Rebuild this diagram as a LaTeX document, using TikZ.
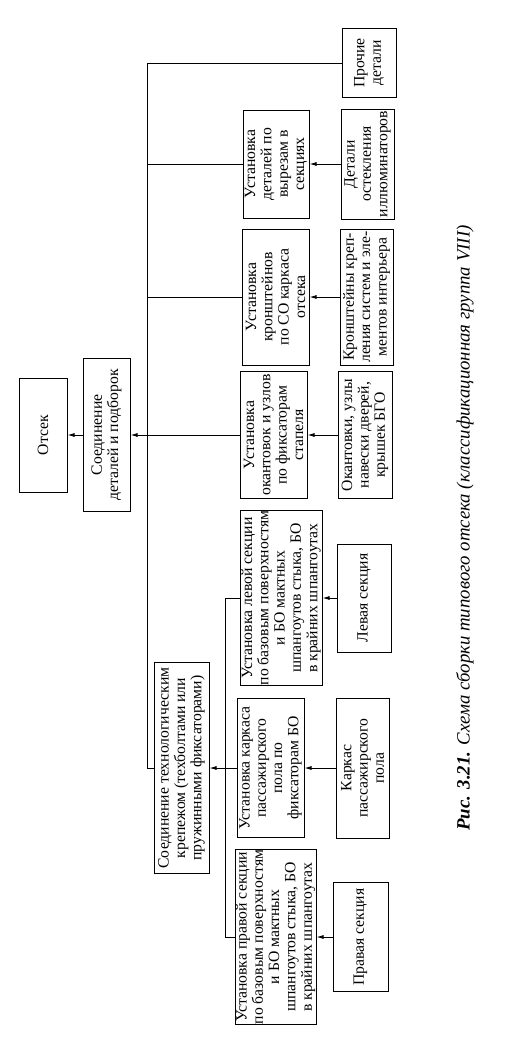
\documentclass[tikz,border=0pt]{standalone}
\usepackage{fontspec}
\setmainfont{Liberation Serif}
\usetikzlibrary{arrows.meta,positioning,calc}

\begin{document}
\begin{tikzpicture}[
			x=1pt, y=-1pt,
			block/.style={draw, line width=1pt, rotate=90, align=center, inner sep=0.5pt, font=\fontsize{15.7}{16.3}\selectfont},
			line/.style={line width=0.9pt},
			arr/.style={line width=0.9pt, -{Latex[length=7pt,width=4pt]}}
			]
			\useasboundingbox (0,0) rectangle (528,1045);
			% main chain
			\node[block, minimum width=114pt, minimum height=48pt] (otsek) at (43,435) {Отсек};
			\node[block, minimum width=153pt, minimum height=47pt] (sobor) at (106.5,435) {Соединение\\деталей и подборок};
			\node[block, minimum width=211pt, minimum height=55pt] (krep) at (181.5,768) {Соединение технологическим\\крепежом (техболтами или\\пружинными фиксаторами)};
			% assembly steps
			\node[block, minimum width=108pt, minimum height=66pt] (ustVyr) at (276,164) {Установка\\деталей по\\вырезам в\\секциях};
			\node[block, minimum width=136pt, minimum height=67pt] (ustKron) at (275.5,297) {Установка\\кронштейнов\\по СО каркаса\\отсека};
			\node[block, minimum width=127pt, minimum height=67pt] (ustOkant) at (273.5,435) {Установка\\окантовок и узлов\\по фиксаторам\\стапеля};
			\node[block, minimum width=175pt, minimum height=82pt] (ustLev) at (281,598) {Установка левой секции\\по базовым поверхностям\\и БО мактных\\шпангоутов стыка, БО\\в крайних шпангоутах};
			\node[block, minimum width=139pt, minimum height=67pt] (ustKark) at (270.5,768) {Установка каркаса\\пассажирского\\пола по\\фиксаторам БО};
			\node[block, minimum width=174pt, minimum height=81pt] (ustPrav) at (275.5,937) {Установка правой секции\\по базовым поверхностям\\и БО мактных\\шпангоутов стыка, БО\\в крайних шпангоутах};
			% parts
			\node[block, minimum width=69pt, minimum height=54pt] (prochie) at (369,63) {Прочие\\детали};
			\node[block, minimum width=110pt, minimum height=53pt] (detOst) at (367.5,164) {Детали\\остекления\\иллюминаторов};
			\node[block, minimum width=136pt, minimum height=53pt] (kron) at (366.5,297) {Кронштейны креп-\\ления систем и эле-\\ментов интерьера};
			\node[block, minimum width=127pt, minimum height=54pt] (okant) at (365,435) {Окантовки, узлы\\навески дверей,\\крышек БГО};
			\node[block, minimum width=108pt, minimum height=54pt] (levSek) at (364,598) {Левая секция};
			\node[block, minimum width=140pt, minimum height=53pt] (kark) at (362.5,768) {Каркас\\пассажирского\\пола};
			\node[block, minimum width=109pt, minimum height=55pt] (pravSek) at (360.5,937) {Правая секция};
			\node[rotate=90, font=\fontsize{18.8}{18.8}\selectfont\itshape] (caption) at (465,528) {\textbf{Рис. 3.21.} Схема сборки типового отсека (классификационная группа VIII)};

			\coordinate (trunk) at (147,768);
			\coordinate (sub) at (225,768);

			\draw[line] (prochie.north) -| (trunk) -- (krep.north);
			\draw[line] (ustVyr.north) -- (ustVyr.north -| trunk);
			\draw[line] (ustKron.north) -- (ustKron.north -| trunk);
			\draw[arr] (ustOkant.north) -- (sobor.south);
			\draw[arr] (sobor.north) -- (otsek.south);
			\draw[line] (ustLev.north) -| (ustPrav.north -| sub) -- (ustPrav.north);
			\draw[arr] (ustKark.north) -- (krep.south);
			\draw[arr] (detOst.north) -- (ustVyr.south);
			\draw[arr] (kron.north) -- (ustKron.south);
			\draw[arr] (okant.north) -- (ustOkant.south);
			\draw[arr] (levSek.north) -- (ustLev.south);
			\draw[arr] (kark.north) -- (ustKark.south);
			\draw[arr] (pravSek.north) -- (ustPrav.south);
		\end{tikzpicture}
\end{document}
